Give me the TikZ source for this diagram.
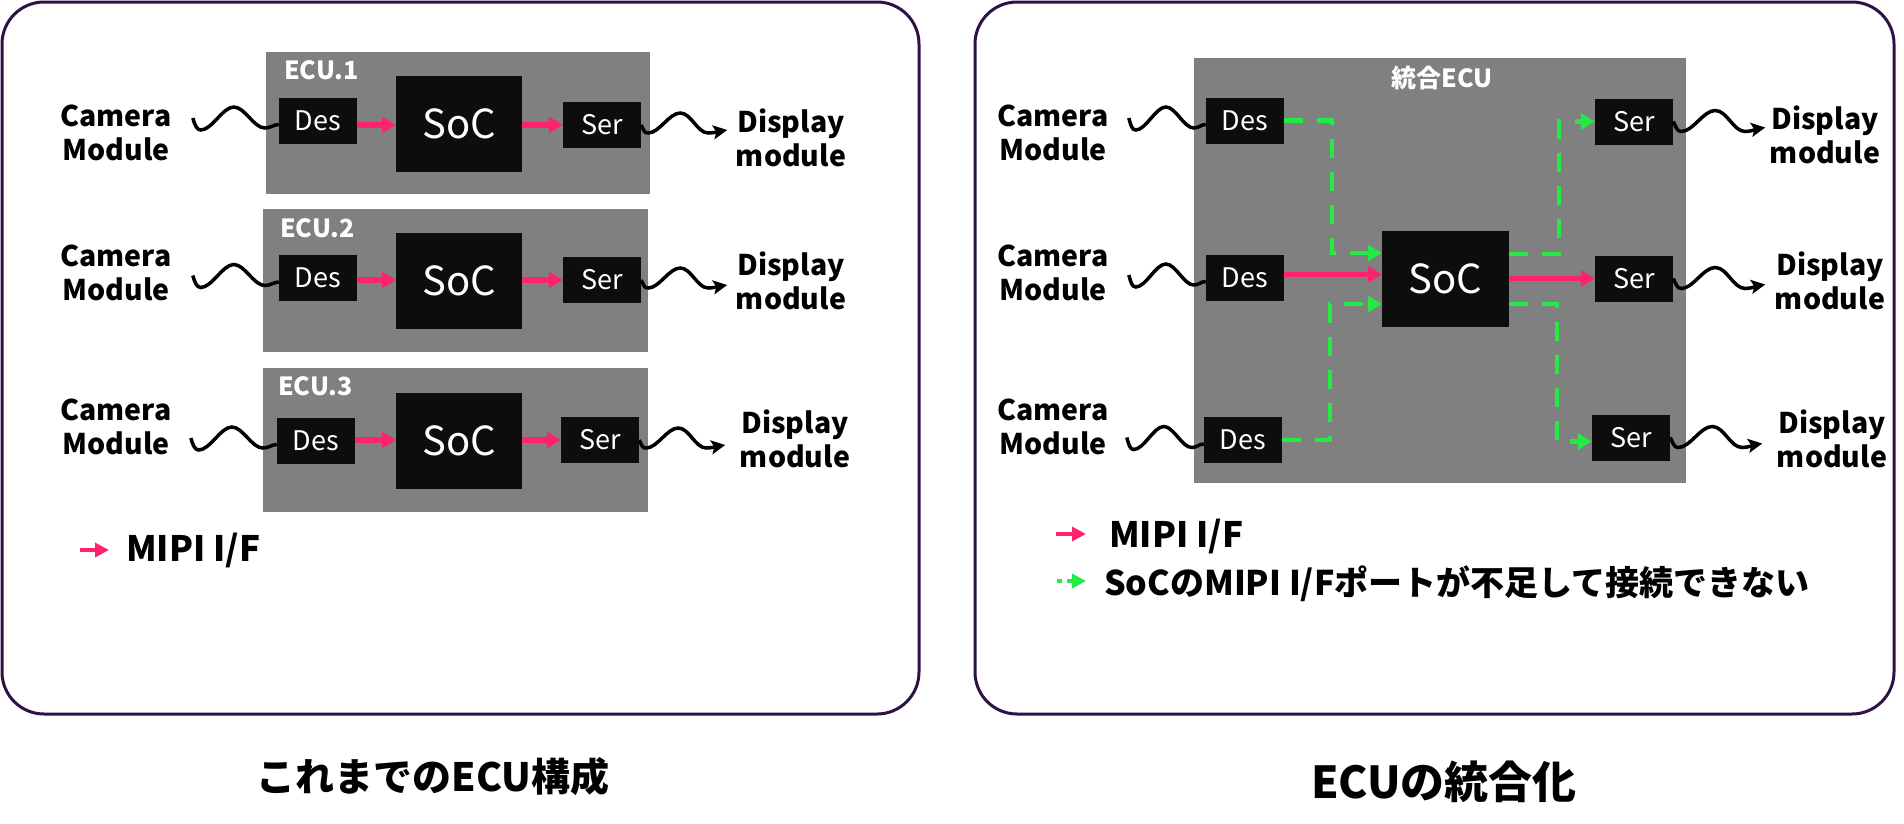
\documentclass[tikz,border=0pt]{standalone}
\usepackage{fontspec}
\setmainfont{Noto Sans CJK JP}
\usetikzlibrary{arrows.meta}
\definecolor{panelc}{HTML}{2E1245}
\definecolor{pinkc}{HTML}{FF2271}
\definecolor{greenc}{HTML}{25EA45}
\definecolor{ecug}{HTML}{808080}
\definecolor{blkc}{HTML}{0D0D0D}
\begin{document}
\begin{tikzpicture}[x=1pt,y=-1pt,
  panel/.style={draw=panelc, line width=3pt, rounded corners=42pt},
  ecubox/.style={fill=ecug, inner sep=0pt},
  blk/.style={fill=blkc, text=white, inner sep=0pt, minimum width=78pt, minimum height=46pt, font=\fontsize{27}{30}\selectfont},
  socbox/.style={blk, minimum width=126pt, minimum height=96pt, font=\fontsize{40}{44}\selectfont},
  mipi/.style={draw=pinkc, line width=5.5pt, -{Triangle[length=14pt,width=16pt]}},
  ng/.style={draw=greenc, line width=4.5pt, dash pattern=on 19pt off 14pt, -{Triangle[length=14pt,width=16pt]}},
  wire/.style={draw=black, line width=3.5pt},
  wirear/.style={wire, -{Stealth[length=14pt,width=14pt,inset=3pt]}},
  lbl/.style={font=\fontsize{28.5}{34}\selectfont\bfseries, align=center, inner sep=0pt},
  ecul/.style={font=\fontsize{25}{27}\selectfont\bfseries, text=white, inner sep=0pt, anchor=west},
  legtxt/.style={font=\fontsize{35}{40}\selectfont\bfseries, inner sep=0pt, anchor=west},
  legpink/.style={draw=pinkc, line width=4.5pt, -{Triangle[length=14pt,width=14pt]}},
  leggreen/.style={draw=greenc, line width=4.5pt, dash pattern=on 5pt off 5pt, -{Triangle[length=14pt,width=14pt]}}
]
\useasboundingbox (0,0) rectangle (1904,823);
% panels
\draw[panel] (2,2) rectangle (919,714);
\draw[panel] (975,2) rectangle (1894,714);

% ===== left panel =====
\node[ecubox, minimum width=384pt, minimum height=142pt] (e1) at (458,123) {};
\node[ecubox, minimum width=385pt, minimum height=143pt] (e2) at (455.5,280.5) {};
\node[ecubox, minimum width=385pt, minimum height=144pt] (e3) at (455.5,440) {};
\node[ecul] (e1l) at (284,70) {ECU.1};
\node[ecul] (e2l) at (280,228) {ECU.2};
\node[ecul] (e3l) at (278,386) {ECU.3};
\node[blk] (ld1) at (318,120.5) {Des};
\node[blk] (ld2) at (318,278) {Des};
\node[blk] (ld3) at (316,440.5) {Des};
\node[socbox] (ls1) at (459,124) {SoC};
\node[socbox] (ls2) at (459,280.5) {SoC};
\node[socbox] (ls3) at (459,440.5) {SoC};
\node[blk] (lr1) at (602,125) {Ser};
\node[blk] (lr2) at (602,280) {Ser};
\node[blk] (lr3) at (600,440) {Ser};
\foreach \i in {1,2,3}{
  \draw[mipi] (ld\i.east |- lr\i) -- (ls\i.west |- lr\i);
  \draw[mipi] (ls\i.east |- lr\i) -- (lr\i.west);
  \coordinate (lcw\i) at ([xshift=-86pt,yshift=2.5pt]ld\i.west);
  \draw[wire] (lcw\i) .. controls +(2,7) and +(-4,0) .. ++(8,12)
     .. controls +(11,0) and +(-11,0) .. ++(33,-23)
     .. controls +(11,0) and +(-11,0) .. ++(31,21)
     .. controls +(6,0) and +(-5,0) .. ([yshift=-4pt]ld\i.west);
  \draw[wirear] (lr\i.east) .. controls +(3,6) and +(-4,0) .. ++(7,8)
     .. controls +(11,0) and +(-11,0) .. ++(32,-20)
     .. controls +(11,0) and +(-11,0) .. ++(28,20)
     .. controls +(6,0) and +(-6,1) .. ++(19,-3);
}
\node[lbl] (lc1) at (116,133) {Camera\\Module};
\node[lbl] (lc2) at (116,273) {Camera\\Module};
\node[lbl] (lc3) at (116,427) {Camera\\Module};
\node[lbl] (lm1) at (791,138) {Display\\module};
\node[lbl] (lm2) at (791,281) {Display\\module};
\node[lbl] (lm3) at (795,439) {Display\\module};
% legend left
\coordinate (lla) at (80,550);
\coordinate (llb) at (109,550);
\draw[legpink] (lla) -- (llb);
\node[legtxt] (llt) at (126,550) {MIPI I/F};
% title left
\node[font=\fontsize{39}{42}\selectfont\bfseries, inner sep=0pt] (t1) at (433,777) {これまでのECU構成};

% ===== right panel =====
\node[ecubox, minimum width=492pt, minimum height=425pt] (re) at (1440,270.5) {};
\node[ecul, anchor=center] (rel) at (1442,78) {統合ECU};
\node[blk] (rd1) at (1245,120.5) {Des};
\node[blk] (rd2) at (1245,277.5) {Des};
\node[blk] (rd3) at (1243,440) {Des};
\node[socbox, minimum width=127pt] (rs) at (1445.5,279) {SoC};
\node[blk] (rr1) at (1634,121.5) {Ser};
\node[blk] (rr2) at (1634,278.5) {Ser};
\node[blk] (rr3) at (1631,437.5) {Ser};
\draw[mipi] ([yshift=3pt]rd2.east) -- ([yshift=3pt]rd2.east -| rs.west);
\draw[mipi] (rs.east |- rr2) -- (rr2.west);
\draw[ng] (rd1.east) -- ++(48,0) |- ([yshift=26pt]rs.west);
\draw[ng] (rd3.east) -- ++(48,0) |- ([yshift=-25pt]rs.west);
\draw[ng] ([yshift=25pt]rs.east) -- ++(50,0) |- (rr1.west);
\draw[ng] ([yshift=-25pt]rs.east) -- ++(48,0) |- ([yshift=-4pt]rr3.west);
\foreach \i in {1,2,3}{
  \coordinate (rcw\i) at ([xshift=-77pt,yshift=2.5pt]rd\i.west);
  \draw[wire] (rcw\i) .. controls +(2,7) and +(-4,0) .. ++(7,12)
     .. controls +(10,0) and +(-10,0) .. ++(30,-23)
     .. controls +(10,0) and +(-10,0) .. ++(28,21)
     .. controls +(5,0) and +(-5,0) .. ([yshift=-4pt]rd\i.west);
  \draw[wirear] (rr\i.east) .. controls +(3,6) and +(-4,0) .. ++(8,10)
     .. controls +(12,0) and +(-12,0) .. ++(34,-21)
     .. controls +(12,0) and +(-12,0) .. ++(30,21)
     .. controls +(6,0) and +(-6,1) .. ++(20,-4);
}
\node[lbl] (rc1) at (1053,133) {Camera\\Module};
\node[lbl] (rc2) at (1053,273) {Camera\\Module};
\node[lbl] (rc3) at (1053,427) {Camera\\Module};
\node[lbl] (rm1) at (1825,135) {Display\\module};
\node[lbl] (rm2) at (1830,281) {Display\\module};
\node[lbl] (rm3) at (1832,439) {Display\\module};
% legend right
\coordinate (rla) at (1056,534);
\coordinate (rlb) at (1086,534);
\draw[legpink] (rla) -- (rlb);
\node[legtxt] (rlt) at (1109,536) {MIPI I/F};
\coordinate (rga) at (1057,581);
\coordinate (rgb) at (1086,581);
\draw[leggreen] (rga) -- (rgb);
\node[legtxt, font=\fontsize{34}{38}\selectfont\bfseries] (rgt) at (1104,584) {SoCのMIPI I/Fポートが不足して接続できない};
% title right
\node[font=\fontsize{44}{48}\selectfont\bfseries, inner sep=0pt] (t2) at (1444,782) {ECUの統合化};
\end{tikzpicture}
\end{document}
